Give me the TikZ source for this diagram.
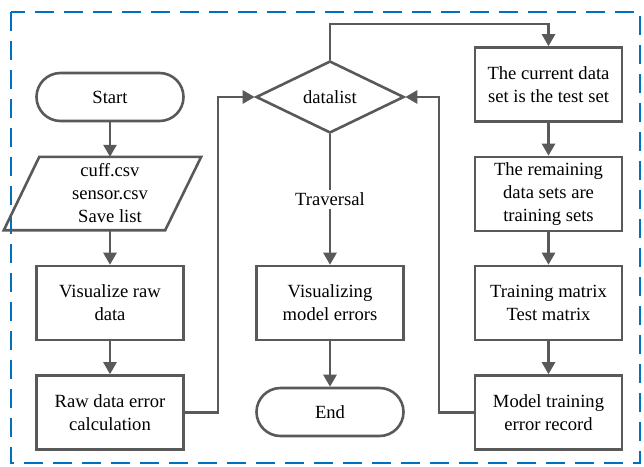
\documentclass[tikz,border=0pt]{standalone}
\usepackage{fontspec}
\setmainfont{Liberation Serif}
\usetikzlibrary{shapes.geometric,arrows.meta,calc}
\definecolor{linegray}{HTML}{595959}
\definecolor{frameblue}{HTML}{0070C0}
\begin{document}
\begin{tikzpicture}[x=1pt,y=-1pt,
  every node/.style={font=\rmfamily\fontsize{18.6}{23}\selectfont, align=center, text=black},
  proc/.style={draw=linegray, line width=2.6pt, minimum width=147pt, minimum height=74pt, inner sep=1pt},
  term/.style={draw=linegray, line width=2.6pt, minimum width=147pt, minimum height=48pt, rounded corners=24pt},
  decide/.style={draw=linegray, line width=2.6pt, diamond, aspect=2.05, minimum width=148pt, minimum height=72pt, inner sep=0pt},
  flow/.style={draw=linegray, line width=2.6pt, -{Triangle[length=12pt,width=13pt]}}]
\useasboundingbox (0,0) rectangle (644,466);
% outer dashed frame
\draw[frameblue, line width=2.6pt, dash pattern=on 19pt off 10pt] (11,12) rectangle (640,463);

% left column
\node[term] (start) at (110,97) {Start};
\node[minimum width=140pt, minimum height=73pt, inner sep=0pt] (io) at (110,193.5) {cuff.csv\\sensor.csv\\Save list};
\draw[linegray, line width=2.6pt, line join=miter]
  ($(io.north west)+(-0.5,0)$) -- ($(io.north east)+(21,0)$) --
  ($(io.south east)+(-15,0)$) -- ($(io.south west)+(-36,0)$) -- cycle;
\node[proc] (visraw) at (110,303) {Visualize raw\\data};
\node[proc] (rawerr) at (110,412.5) {Raw data error\\calculation};

% middle column
\node[decide] (dl) at (330,97) {datalist};
\node[proc] (vismod) at (330,303) {Visualizing\\model errors};
\node[term] (endn) at (330,412) {End};

% right column
\node[proc] (cur) at (548.5,84.5) {The current data\\set is the test set};
\node[proc] (rem) at (548.5,194) {The remaining\\data sets are\\training sets};
\node[proc] (mat) at (548.5,303) {Training matrix\\Test matrix};
\node[proc] (rec) at (548.5,412.5) {Model training\\error record};

% turning points of the loops
\coordinate (c1) at (218,412.5);
\coordinate (c2) at (218,97);
\coordinate (c3) at (330,24);
\coordinate (c4) at (548.5,24);
\coordinate (c5) at (439,412.5);
\coordinate (c6) at (439,97);

% connectors
\draw[flow] (start) -- (io);
\draw[flow] (io) -- (visraw);
\draw[flow] (visraw) -- (rawerr);
\draw[flow] (rawerr.east) -- (c1) -- (c2) -- (dl.west);
\draw[flow] (dl.north) -- (c3) -- (c4) -- (cur.north);
\draw[flow] (cur) -- (rem);
\draw[flow] (rem) -- (mat);
\draw[flow] (mat) -- (rec);
\draw[flow] (rec.west) -- (c5) -- (c6) -- (dl.east);
\draw[flow] (dl.south) -- node[fill=white, inner sep=3pt, pos=0.5] (trav) {Traversal} (vismod.north);
\draw[flow] (vismod) -- (endn);
\end{tikzpicture}
\end{document}
